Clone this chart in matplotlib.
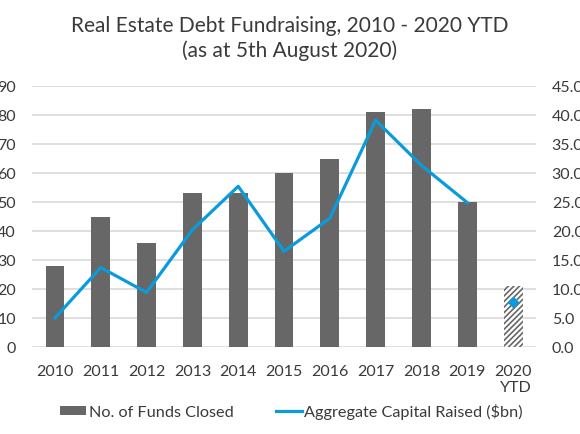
import matplotlib
matplotlib.use("Agg")
import matplotlib.pyplot as plt
from matplotlib.patches import Patch
from matplotlib.lines import Line2D
import numpy as np

plt.rcParams['font.family'] = ['Lato', 'DejaVu Sans']

categories = ["2010", "2011", "2012", "2013", "2014", "2015", "2016", "2017", "2018", "2019", "2020\nYTD"]
funds_closed = [28, 45, 36, 53, 53, 60, 65, 81, 82, 50, 21]
capital_raised = [5.0, 13.7, 9.4, 20.2, 27.7, 16.5, 22.2, 39.1, 31.3, 24.9, 7.8]

bar_color = "#686767"
line_color = "#0A9BDB"
text_color = "#3a3a3a"

fig = plt.figure(figsize=(5.8, 4.35), dpi=100)
ax = fig.add_axes([0.0552, 0.2, 0.869, 0.6])
ax2 = ax.twinx()

x = np.arange(len(categories))
n_full = len(categories) - 1
ax.bar(x[:n_full], funds_closed[:n_full], width=0.41, color=bar_color, zorder=2)
plt.rcParams['hatch.color'] = bar_color
plt.rcParams['hatch.linewidth'] = 1.2
ax.bar(x[n_full:], funds_closed[n_full:], width=0.41, facecolor="white",
       edgecolor=bar_color, hatch="//////", linewidth=0, zorder=2)

ax2.plot(x[:n_full], capital_raised[:n_full], color=line_color, lw=2.3, zorder=3)
ax2.plot(x[n_full:], capital_raised[n_full:], color=line_color, marker="D",
         markersize=5, lw=0, zorder=3)

ax.set_xlim(-0.5, len(categories) - 0.5)
ax.set_ylim(0, 90)
ax.set_yticks(np.arange(0, 91, 10))
ax2.set_ylim(0, 45)
ax2.set_yticks(np.arange(0, 46, 5))
ax2.set_yticklabels([f"{v:.1f}" for v in np.arange(0, 46, 5)])

ax.set_xticks(x)
ax.set_xticklabels(categories, multialignment='right')

ax.grid(axis='y', color="#d9d9d9", lw=1.2, zorder=0)
ax.set_axisbelow(True)
for a in (ax, ax2):
    for s in a.spines.values():
        s.set_visible(False)
    a.tick_params(length=0, labelsize=11.5, colors=text_color)
ax.tick_params(axis='y', pad=11.5)
ax2.tick_params(axis='y', pad=11.3)
ax.tick_params(axis='x', pad=12)
ax.set_zorder(ax2.get_zorder() - 1)
ax.patch.set_visible(True)
ax2.patch.set_visible(False)

fig.text(0.5, 0.9115, "Real Estate Debt Fundraising, 2010 - 2020 YTD\n(as at 5th August 2020)",
         ha='center', va='center', fontsize=15, color=text_color, linespacing=1.3)

handles = [Patch(facecolor=bar_color, edgecolor='none'),
           Line2D([0], [0], color=line_color, lw=2.3)]
leg = fig.legend(handles, ["No. of Funds Closed", "Aggregate Capital Raised ($bn)"],
                 loc='center', bbox_to_anchor=(0.503, 0.053), ncol=2, frameon=False,
                 fontsize=11.7, handlelength=1.6, handleheight=0.5, handletextpad=0.15,
                 columnspacing=2.6, labelcolor=text_color)

fig.savefig("out.png", dpi=100)
